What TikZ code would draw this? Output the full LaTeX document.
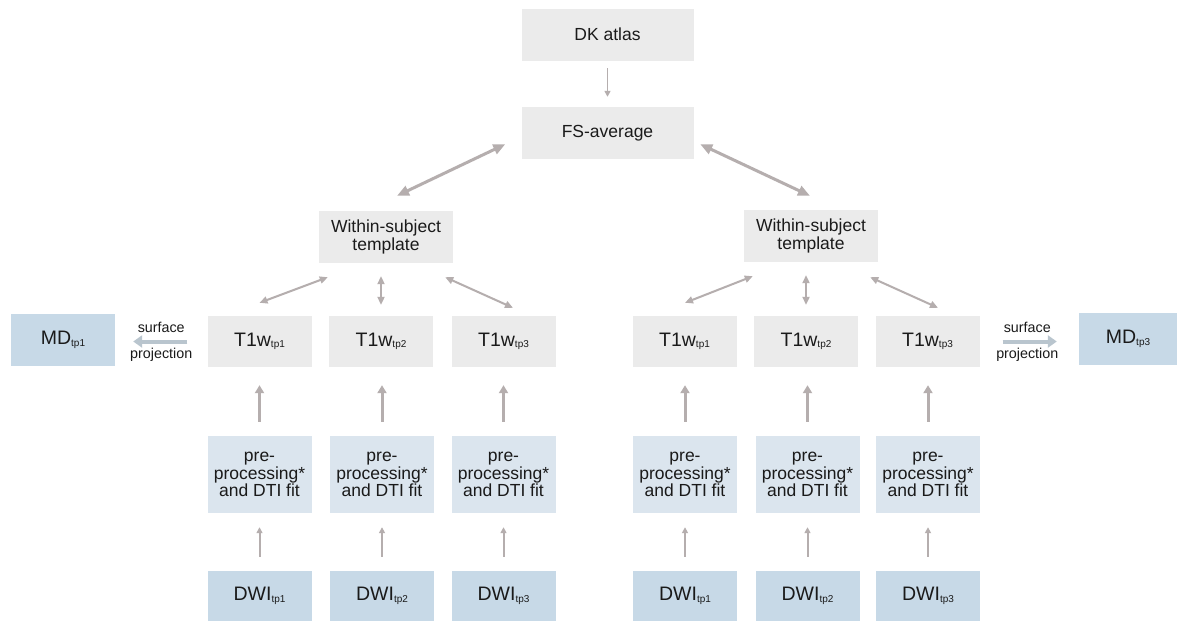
\documentclass[tikz,border=0pt]{standalone}
\usepackage{fontspec}
\setmainfont{Liberation Sans}
\usetikzlibrary{arrows.meta,calc}
\definecolor{boxgrey}{HTML}{EBEBEB}
\definecolor{boxpre}{HTML}{DBE5EE}
\definecolor{boxdwi}{HTML}{C7D9E7}
\definecolor{arr}{HTML}{B5AEAE}
\definecolor{arrsurf}{HTML}{B9C5CE}
\definecolor{txt}{HTML}{1A1A1A}
\newcommand{\tpsub}[1]{{\fontsize{10}{10}\selectfont\raisebox{-1.5pt}{#1}}}
\begin{document}
\begin{tikzpicture}[x=1pt,y=-1pt,
  box/.style={inner sep=0pt, align=center, text=txt, minimum width=104pt, minimum height=51pt},
  midfont/.style={font=\fontsize{17.5}{17.2}\selectfont},
  bigfont/.style={font=\fontsize{19.5}{20}\selectfont},
  greybox/.style={box, fill=boxgrey},
  prebox/.style={box, fill=boxpre, minimum height=77pt, midfont},
  dwibox/.style={box, fill=boxdwi, bigfont},
  thinarr/.style={draw=arr, line width=1.5pt, -{Triangle[length=6pt,width=6pt]}},
  bidir/.style={draw=arr, line width=3pt, {Triangle[length=12pt,width=10pt]}-{Triangle[length=12pt,width=10pt]}},
  bidirs/.style={draw=arr, line width=2pt, {Triangle[length=8pt,width=7pt]}-{Triangle[length=8pt,width=7pt]}},
  uparr/.style={draw=arr, line width=3pt, -{Triangle[length=8pt,width=9pt]}},
  upthin/.style={draw=arr, line width=2pt, -{Triangle[length=6pt,width=6pt]}},
  surfarr/.style={draw=arrsurf, line width=4pt, -{Triangle[length=9pt,width=12pt]}},
  surflabel/.style={font=\fontsize{14.3}{14.3}\selectfont, text=txt, inner sep=0pt}
]
\useasboundingbox (0,0) rectangle (1177,621);
\fill[white] (0,0) rectangle (1177,621);

% top
\node[greybox, midfont, minimum width=172pt, minimum height=52pt] (dk) at (607.5,34.5) {DK atlas};
\node[greybox, midfont, minimum width=172pt, minimum height=52pt] (fs) at (607.5,133) {FS-average};
\node[greybox, midfont, minimum width=134pt, minimum height=52pt] (wstL) at (386,237) {Within-subject\\template};
\node[greybox, midfont, minimum width=134pt, minimum height=52pt] (wstR) at (811,236) {Within-subject\\template};

% T1w row
\node[greybox, bigfont] (tL1) at (259.5,341.5) {T1w\tpsub{tp1}};
\node[greybox, bigfont] (tL2) at (381,341.5) {T1w\tpsub{tp2}};
\node[greybox, bigfont] (tL3) at (503.5,341.5) {T1w\tpsub{tp3}};
\node[greybox, bigfont] (tR1) at (684.5,341.5) {T1w\tpsub{tp1}};
\node[greybox, bigfont] (tR2) at (806,341.5) {T1w\tpsub{tp2}};
\node[greybox, bigfont] (tR3) at (927.5,341.5) {T1w\tpsub{tp3}};

% pre row
\node[prebox] (pL1) at (259.5,474.5) {pre-\\processing*\\and DTI fit};
\node[prebox] (pL2) at (382,474.5) {pre-\\processing*\\and DTI fit};
\node[prebox] (pL3) at (503.5,474.5) {pre-\\processing*\\and DTI fit};
\node[prebox] (pR1) at (685,474.5) {pre-\\processing*\\and DTI fit};
\node[prebox] (pR2) at (807.5,474.5) {pre-\\processing*\\and DTI fit};
\node[prebox] (pR3) at (928,474.5) {pre-\\processing*\\and DTI fit};

% DWI row
\node[dwibox, minimum height=50pt] (dL1) at (259.5,596) {DWI\tpsub{tp1}};
\node[dwibox, minimum height=50pt] (dL2) at (382,596) {DWI\tpsub{tp2}};
\node[dwibox, minimum height=50pt] (dL3) at (503.5,596) {DWI\tpsub{tp3}};
\node[dwibox, minimum height=50pt] (dR1) at (685,596) {DWI\tpsub{tp1}};
\node[dwibox, minimum height=50pt] (dR2) at (807.5,596) {DWI\tpsub{tp2}};
\node[dwibox, minimum height=50pt] (dR3) at (928,596) {DWI\tpsub{tp3}};

% MD boxes
\node[dwibox, minimum height=52pt] (md1) at (63,340) {MD\tpsub{tp1}};
\node[dwibox, minimum width=98pt, minimum height=52pt] (md3) at (1128,339) {MD\tpsub{tp3}};

% connectors top
\draw[thinarr, shorten <=7.5pt, shorten >=10pt] (dk.south -| fs.north) -- (fs.north);
\draw[bidir] ($(fs.south west)+(-16,-15)$) -- ($(wstL.north)+(11,-15)$);
\draw[bidir] ($(fs.south east)+(6.5,-15)$) -- ($(wstR.north)+(-1,-14)$);

% within-subject to T1w (left)
\draw[bidirs] ($(wstL.south west)+(9,14)$) -- ($(tL1.north)+(0,-13)$);
\draw[bidirs, shorten <=13pt, shorten >=11pt] (tL2.north |- wstL.south) -- (tL2.north);
\draw[bidirs] ($(wstL.south east)+(-8,14)$) -- ($(tL3.north)+(9.5,-8)$);
% right
\draw[bidirs] ($(wstR.south west)+(9,14)$) -- ($(tR1.north)+(0.5,-13)$);
\draw[bidirs, shorten <=13pt, shorten >=11pt] (tR2.north |- wstR.south) -- (tR2.north);
\draw[bidirs] ($(wstR.south east)+(-8,15)$) -- ($(tR3.north)+(10.5,-8)$);

% pre to T1w
\foreach \p/\t in {pL1/tL1,pL2/tL2,pL3/tL3,pR1/tR1,pR2/tR2,pR3/tR3}{
  \draw[uparr, shorten <=14pt, shorten >=18pt] (\p.north) -- (\p.north |- \t.south);
}
% DWI to pre
\foreach \d/\p in {dL1/pL1,dL2/pL2,dL3/pL3,dR1/pR1,dR2/pR2,dR3/pR3}{
  \draw[upthin, shorten <=14pt, shorten >=14pt] (\d.north) -- (\d.north |- \p.south);
}

% surface projection
\draw[surfarr, shorten <=20pt, shorten >=18pt] (tL1.west) -- (tL1.west -| md1.east)
  node[midway, surflabel, yshift=14pt] (sl1) {surface}
  node[midway, surflabel, yshift=-13pt] (pl1) {projection};
\draw[surfarr, shorten <=23pt, shorten >=22pt] (tR3.east) -- (tR3.east -| md3.west)
  node[midway, surflabel, xshift=-2pt, yshift=14pt] (sl3) {surface}
  node[midway, surflabel, xshift=-2pt, yshift=-13pt] (pl3) {projection};
\end{tikzpicture}
\end{document}
